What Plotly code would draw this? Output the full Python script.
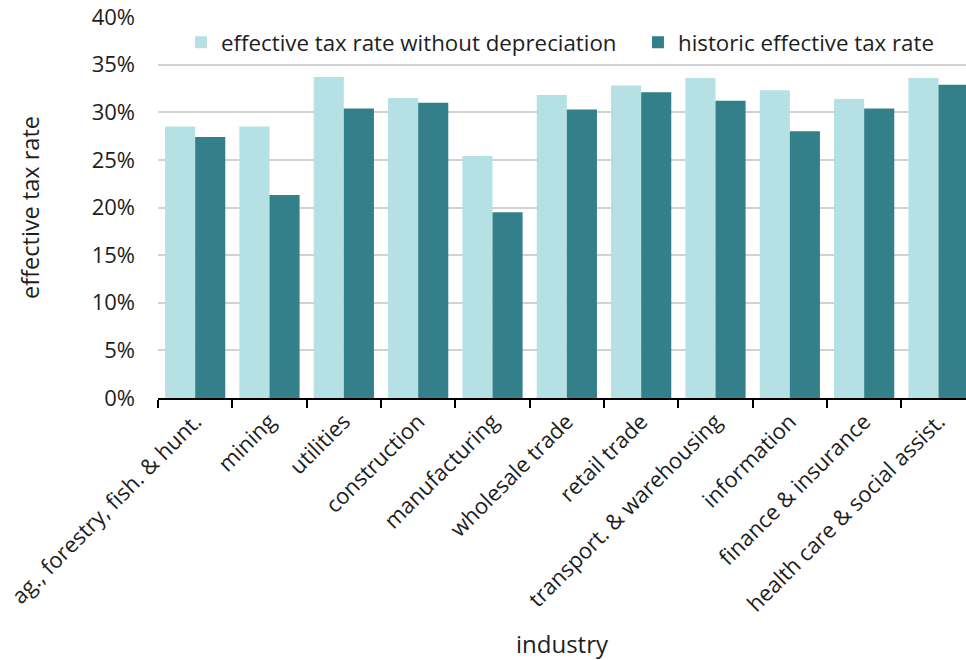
import plotly.graph_objects as go

industries = ["ag., forestry, fish. & hunt.", "mining", "utilities", "construction",
              "manufacturing", "wholesale trade", "retail trade", "transport. & warehousing",
              "information", "finance & insurance", "health care & social assist."]
without_depr = [28.5, 28.5, 33.7, 31.5, 25.4, 31.8, 32.8, 33.6, 32.3, 31.4, 33.6]
historic = [27.4, 21.3, 30.4, 31.0, 19.5, 30.3, 32.1, 31.2, 28.0, 30.4, 32.9]
y_ticks = [0, 5, 10, 15, 20, 25, 30, 35, 40]

FONT = "Open Sans"
TXT = "#1e1e1e"

fig = go.Figure()
fig.add_bar(x=industries, y=without_depr, name="effective tax rate without depreciation",
            marker=dict(color="#b5e1e5", line=dict(width=0)), legend="legend")
fig.add_bar(x=industries, y=historic, name="historic effective tax rate",
            marker=dict(color="#33808a", line=dict(width=0)), legend="legend2")

leg_common = dict(orientation="h", xanchor="left", y=0.934, yanchor="middle",
                  font=dict(size=22.3, color=TXT), bgcolor="rgba(0,0,0,0)",
                  itemclick=False)

fig.update_layout(
    width=966, height=660,
    margin=dict(l=158, r=0, t=17, b=262),
    plot_bgcolor="white", paper_bgcolor="white",
    barmode="group", bargap=0.19, bargroupgap=0,
    font=dict(family=FONT, size=21, color=TXT),
    legend=dict(x=0.0285, **leg_common),
    legend2=dict(x=0.594, **leg_common),
    showlegend=True,
)
fig.update_xaxes(
    type="category", range=[-0.5, 10.37], tickson="boundaries",
    showline=True, linecolor="black", linewidth=2,
    ticks="outside", ticklen=8, tickwidth=2, tickcolor="black",
    tickangle=-45, tickfont=dict(size=22, color=TXT),
    showgrid=False,
    title=dict(text="industry", font=dict(size=24, color=TXT), standoff=24),
)
fig.update_yaxes(
    range=[0, 40], tickvals=y_ticks, ticktext=[f"{v}%" for v in y_ticks],
    showgrid=True, gridcolor="#d2d2d2", gridwidth=1.5,
    zeroline=False, showline=False,
    ticks="", ticklabelstandoff=22, tickfont=dict(size=22, color=TXT),
    title=dict(text="effective tax rate", font=dict(size=23.5, color=TXT), standoff=45),
)
fig.write_html("out.html")
